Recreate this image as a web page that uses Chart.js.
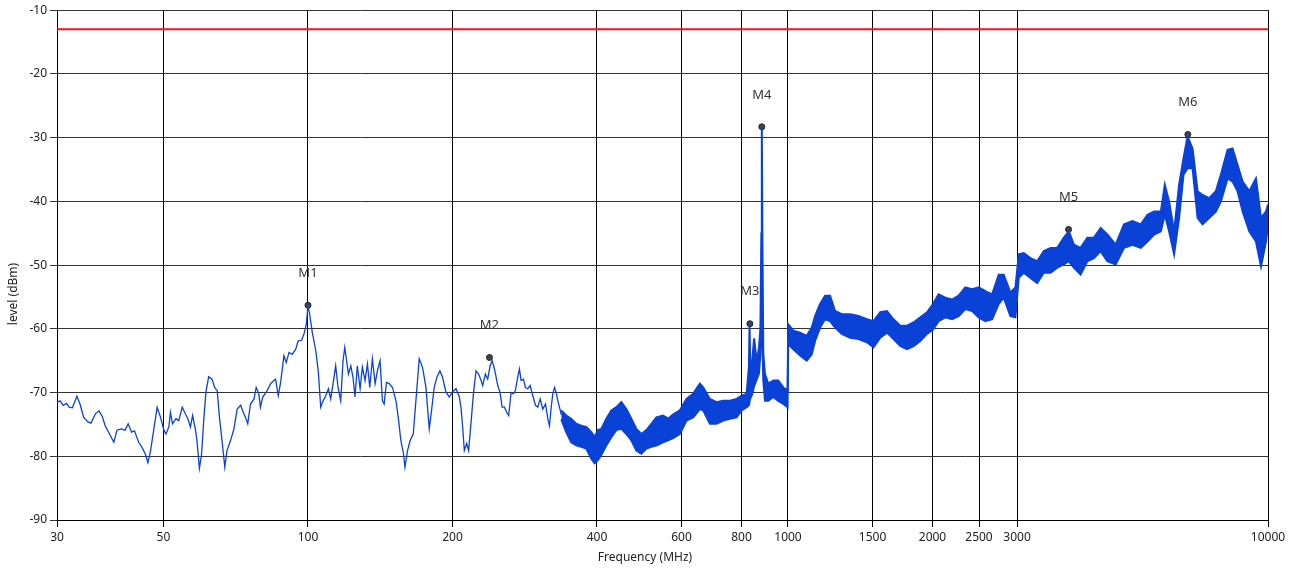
<!DOCTYPE html>
<html>
<head>
<meta charset="utf-8">
<script src="https://cdn.jsdelivr.net/npm/chart.js@4.4.1/dist/chart.umd.min.js"></script>
<style>
  html, body { margin: 0; padding: 0; background: #fff; }
  canvas { display: block; }
</style>
</head>
<body>
<canvas id="grafEspectro" width="1298" height="572"></canvas>
<script>
/* =====================================
   DATA
===================================== */

// thin trace, 30 .. 337 MHz
const lowFreq = [
  30, 30.45, 30.9, 31.4, 31.8, 32.3, 33.0, 33.5, 34.1, 34.8, 35.3, 36.1, 36.7, 37.3, 37.8, 38.4,
  39.4, 40.0, 40.8, 41.6, 42.2, 42.9, 43.5, 44.4, 45.1, 45.8, 46.4, 47.0, 47.7, 48.5, 49.3, 50.1,
  50.6, 51.3, 51.7, 52.2, 53.1, 53.8, 54.7, 55.5, 56.2, 56.9, 57.5, 58.3, 58.7, 59.4, 60.0, 60.7,
  61.3, 62.1, 63.1, 63.9, 64.7, 65.4, 66.2, 67.1, 67.8, 69.0, 70.1, 71.2, 72.4, 73.3, 74.1, 74.9,
  75.9, 77.2, 78.0, 79.0,
  79.6, 80.5, 82.2, 83.6, 84.9, 85.6, 86.7, 87.7, 89.1, 90.1, 91.3, 92.7, 94.3, 95.4, 97.0, 98.1,
  99.2, 100, 100.8, 102.1, 103.8, 105.1, 106.3, 107.5, 108.9, 110.3, 111.5, 112.8, 114.2, 115.5,
  117.0, 118.3, 119.3, 120.2, 121.4, 122.8, 124.1, 125.3, 126.7, 128.4, 129.8, 131.5, 133.0, 134.5,
  136.2, 138.0, 139.5, 141.3, 142.9, 144.1, 145.7, 147.6, 150.0, 152.5, 154.3, 156.1, 158.1, 159.2,
  161.2, 163.3, 165.7, 167.8, 170.5, 173.2, 176.1, 178.9, 180.9, 183.2, 185.6, 188.3, 190.7, 193.8,
  197.0, 200.1, 203.4, 206.7,
  208.4, 210.0, 211.7, 214.1, 216.1, 217.6, 219.7, 221.1, 223.9, 226.7, 229.4, 231.2, 234.2, 236.8,
  239.6, 241.9, 244.6, 246.6, 248.5, 251.3, 253.8, 256.6, 259.4, 261.9, 264.9, 267.9, 270.4, 273.5,
  275.7, 278.0, 281.1, 283.8, 287.0, 290.3, 294.0, 297.8, 301.1, 304.6, 308.4, 312.5, 315.9, 318.5,
  321.1, 323.6, 326.3, 328.9, 331.5, 335.4, 337.0
];
const lowLevel = [
  -71.5, -71.3, -72.0, -71.7, -72.3, -72.4, -70.6, -71.8, -73.9, -74.6, -74.8, -73.3, -72.9, -73.8, -75.2, -76.2,
  -77.8, -75.9, -75.7, -75.9, -74.9, -76.2, -76.0, -77.8, -78.6, -79.6, -81.0, -79.1, -75.9, -72.3, -73.9, -75.9,
  -76.5, -75.4, -73.1, -74.9, -74.1, -74.4, -72.3, -73.3, -74.1, -75.4, -73.6, -75.9, -77.5, -81.9, -79.8, -73.9,
  -69.9, -67.5, -67.9, -69.2, -69.7, -73.9, -77.5, -81.7, -79.1, -77.5, -75.7, -72.6, -72.0, -73.1, -73.9, -74.9,
  -71.8, -71.0, -69.2, -70.2,
  -72.3, -70.7, -69.7, -68.6, -68.1, -67.9, -70.5, -68.4, -64.2, -65.3, -63.7, -64.0, -63.2, -61.9, -61.8, -60.8,
  -59.3, -56.3, -57.7, -60.6, -63.4, -66.8, -72.3, -71.3, -70.5, -69.4, -71.0, -68.6, -65.8, -69.2,
  -71.3, -65.0, -62.9, -64.7, -67.1, -65.8, -67.6, -70.7, -65.8, -69.4, -66.0, -68.1, -65.5, -69.2,
  -64.7, -68.6, -66.6, -65.0, -71.3, -71.8, -68.4, -68.6, -69.2, -71.3, -74.1, -77.5, -79.6, -81.7,
  -79.1, -77.5, -76.5, -71.3, -64.7, -66.0, -69.2, -75.7, -72.8, -69.2, -67.6, -66.6, -67.6, -69.9,
  -70.7, -69.9, -69.4, -70.7,
  -72.5, -75.4, -79.1, -78.0, -79.1, -76.5, -72.8, -70.2, -66.6, -67.1, -68.1, -68.9, -67.1, -67.9,
  -65.8, -65.0, -66.3, -67.6, -68.9, -70.0, -72.3, -72.3, -73.1, -73.6, -70.0, -70.2, -69.7, -67.6,
  -66.3, -68.1, -67.9, -69.2, -69.4, -68.9, -70.5, -72.0, -72.3, -71.0, -72.6, -71.8, -74.1, -75.2,
  -72.3, -70.2, -69.2, -70.0, -71.3, -72.8, -73.5
];

// noisy band, 337 .. 10000 MHz (upper / lower edge of the blue band)
const bandFreq = [
  337.0, 345.1, 353.5, 362.1, 370.9, 379.9, 389.2, 395.4, 401.8, 408.4, 418.3, 428.5, 438.9, 449.6,
  460.5, 471.7, 483.2, 494.9, 507.0, 519.3, 531.9, 549.1, 562.6, 575, 595.0, 614.5, 634.4, 655.2,
  665.7, 687.5, 710.0, 732.9, 756.7, 781.5, 800.4, 820.0, 829, 831.5, 834, 840, 850, 860, 870, 876,
  880, 882, 884.5, 888.2, 895.5, 909.8, 931.9, 954.4, 977.7, 998, 1001, 1025.9, 1059.5, 1094.0,
  1120.7, 1138.7, 1166.3, 1194.6, 1223.7, 1253.4, 1294.4, 1347.1, 1402.1, 1460.0, 1507.2, 1556.5,
  1607.4, 1659.0, 1713.3, 1769.4, 1826.5, 1886.3, 1948.1, 2005.0, 2059.7, 2126.9, 2196.6, 2267.3,
  2341.5, 2418.2, 2496.2, 2577.9, 2662.5, 2747.9, 2814.8, 2907.0, 2977.6, 3025.3, 3098.5, 3200.0,
  3304.5, 3411.9, 3523.6, 3638.8, 3755.6, 3847.3, 3940.6, 4069.7, 4203.0, 4338.7, 4480.8, 4627.0,
  4816.0, 5012.0, 5219.6, 5432.2, 5610.3, 5790.8, 5980.4, 6095.6, 6222.3, 6373.8, 6528.3, 6668.2,
  6798.0, 6963.6, 7132.9, 7304.8, 7540.3, 7786.4, 7977.0, 8237.6, 8437.3, 8641.5, 8852.8, 9141.4,
  9438.7, 9670.0, 9903.7, 10000
];
const bandHigh = [
  -72.8, -73.6, -74.1, -74.9, -75.2, -75.4, -76.2, -77.0, -75.9, -75.7, -74.1, -72.8, -72.3, -71.5,
  -72.6, -74.1, -75.7, -76.5, -75.9, -74.9, -73.9, -73.6, -74.1, -73.5, -72.8, -71.0, -70.2, -68.6,
  -69.2, -71.0, -71.5, -71.3, -71.3, -71.0, -70.5, -70.2, -66.0, -59.3, -65.0, -66.0, -61.5, -65.0, -63.0, -60.0,
  -45.0, -28.3, -45.0, -63.9, -67.1, -68.6, -68.1, -68.1, -69.2, -69.7, -59.3, -60.3, -60.6, -61.1,
  -59.8, -58.0, -56.1, -54.8, -54.8, -57.2, -57.7, -57.7, -58.0, -58.5, -58.8, -57.4,
  -57.2, -58.5, -59.5, -59.5, -59.0, -58.2, -57.4, -56.1, -54.6, -55.1, -55.4, -54.8,
  -53.5, -53.8, -53.5, -54.1, -54.6, -51.5, -51.5, -54.3, -53.5, -48.3, -48.1, -48.9,
  -49.4, -47.8, -47.3, -47.3, -45.7, -44.7, -46.8, -47.3, -45.7, -45.7, -44.2, -45.2,
  -46.8, -43.6, -43.1, -43.6, -42.1, -41.6, -41.6, -37.4, -40.0, -44.7, -37.4, -33.2,
  -29.8, -31.7, -38.4, -39.0, -39.5, -38.4, -35.8, -31.9, -31.7, -34.3, -36.9, -38.4,
  -36.4, -42.6, -41.6, -40.5
];
const bandLow = [
  -74.2, -76.2, -77.8, -78.3, -78.5, -78.8, -80.4, -81.1, -80.6, -79.8, -78.3, -77.0, -75.9, -75.7,
  -76.5, -77.5, -79.1, -79.6, -78.8, -78.5, -78.3, -77.8, -77.5, -77.2, -76.5, -74.4, -73.9, -72.6,
  -72.8, -74.9, -74.9, -74.4, -74.1, -73.9, -72.8, -72.3, -72.0, -71.5, -71.0, -70.5, -69.0, -68.0, -67.0, -64.0,
  -56.0, -50.0, -62.0, -68.1, -71.3, -71.3, -70.7, -71.3, -71.8, -72.3, -62.4, -63.2, -64.2, -65.0,
  -64.0, -61.9, -59.8, -58.5, -58.8, -59.8, -60.8, -61.4, -61.6, -62.1, -62.9, -61.4,
  -60.6, -61.6, -62.7, -63.2, -62.7, -61.9, -60.8, -60.1, -58.8, -58.2, -58.5, -58.0,
  -56.9, -57.2, -58.2, -58.8, -58.5, -56.1, -55.1, -58.0, -58.2, -52.0, -51.2, -52.0,
  -52.8, -51.2, -51.2, -50.4, -49.9, -49.4, -50.4, -51.5, -49.4, -48.9, -47.8, -49.4,
  -49.9, -47.3, -46.8, -47.3, -46.3, -45.2, -44.7, -42.1, -44.7, -48.3, -42.6, -35.8,
  -34.8, -34.8, -42.6, -43.6, -42.6, -41.6, -40.0, -36.4, -36.9, -38.4, -41.6, -44.7,
  -46.3, -50.2, -46.3, -43.6
];

// limit line
const limitFreq = [30, 10000];
const limitLevel = [-13, -13];

// markers
const markerNames = ["M1", "M2", "M3", "M4", "M5", "M6"];
const markerFreq = [100, 238.8, 833, 882, 3842, 6808];
const markerLevel = [-56.3, -64.5, -59.2, -28.3, -44.4, -29.5];

// axis ticks
const xTickValues = [30, 50, 100, 200, 400, 600, 800, 1000, 1500, 2000, 2500, 3000, 10000];
const yMin = -90;
const yMax = -10;

/* =====================================
   HELPERS
===================================== */

function puntos(xs, ys){
    return xs.map((v, i) => ({ x: v, y: ys[i] }));
}

const AZUL = "#0a42d8";

/* =====================================
   LABELS PLUGIN
===================================== */

const etiquetas = {
    id: "etiquetas",
    afterDatasetsDraw(chart){
        const { ctx, scales } = chart;
        ctx.save();
        ctx.font = '13px "Noto Sans"';
        ctx.fillStyle = "#333";
        ctx.textAlign = "center";
        ctx.textBaseline = "middle";
        markerNames.forEach((n, i) => {
            const px = scales.x.getPixelForValue(markerFreq[i]);
            const py = scales.y.getPixelForValue(markerLevel[i]);
            ctx.fillText(n, px, py - 32);
        });

        // axis titles
        ctx.font = '12px "Noto Sans"';
        ctx.fillStyle = "#222";
        ctx.fillText("Frequency (MHz)", 645, 558);
        ctx.translate(14, 294);
        ctx.rotate(-Math.PI / 2);
        ctx.fillText("level (dBm)", 0, 0);
        ctx.restore();
    }
};

/* =====================================
   CHART
===================================== */

Chart.defaults.font.family = '"Noto Sans", sans-serif';
Chart.defaults.font.size = 12;
Chart.defaults.color = "#222";

new Chart(
    document.getElementById("grafEspectro"),
    {
        type: "line",
        data: {
            datasets: [
                {
                    label: "limit",
                    data: puntos(limitFreq, limitLevel),
                    borderColor: "#ff1010",
                    borderWidth: 2,
                    pointRadius: 0
                },
                {
                    label: "trace",
                    data: puntos(lowFreq, lowLevel),
                    borderColor: AZUL,
                    borderWidth: 1.3,
                    pointRadius: 0,
                    tension: 0
                },
                {
                    label: "band high",
                    data: puntos(bandFreq, bandHigh),
                    borderColor: AZUL,
                    borderWidth: 2,
                    pointRadius: 0,
                    fill: false
                },
                {
                    label: "band low",
                    data: puntos(bandFreq, bandLow),
                    borderColor: AZUL,
                    backgroundColor: AZUL,
                    borderWidth: 2,
                    pointRadius: 0,
                    fill: "-1"
                },
                {
                    label: "markers",
                    data: puntos(markerFreq, markerLevel),
                    showLine: false,
                    pointRadius: 3,
                    pointBackgroundColor: "#444",
                    pointBorderColor: "#222",
                    pointBorderWidth: 1
                }
            ]
        },
        options: {
            responsive: false,
            animation: false,
            layout: {
                padding: { top: 8, right: 30, left: 0, bottom: 0 }
            },
            plugins: {
                legend: { display: false },
                tooltip: { enabled: false }
            },
            scales: {
                x: {
                    type: "logarithmic",
                    min: 30,
                    max: 10000,
                    afterBuildTicks: s => {
                        s.ticks = xTickValues.map(v => ({ value: v }));
                    },
                    afterFit: s => { s.height = 52; },
                    ticks: {
                        autoSkip: false,
                        maxRotation: 0,
                        padding: 3,
                        callback: v => String(v)
                    },
                    grid: {
                        color: "#000",
                        lineWidth: 1,
                        tickLength: 7
                    },
                    border: { color: "#000", width: 1 }
                },
                y: {
                    min: yMin,
                    max: yMax,
                    afterFit: s => { s.width = 57; },
                    ticks: {
                        stepSize: 10,
                        padding: 3
                    },
                    grid: {
                        color: "#333",
                        lineWidth: 1,
                        tickLength: 7
                    },
                    border: { color: "#000", width: 1 }
                }
            }
        },
        plugins: [etiquetas]
    }
);
</script>
</body>
</html>
